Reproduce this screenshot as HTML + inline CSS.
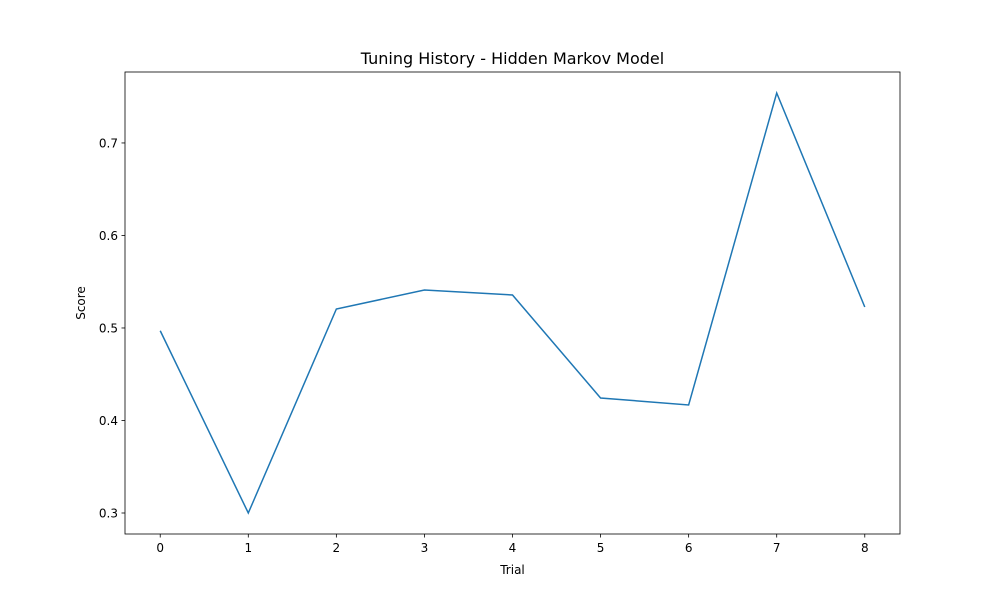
<!DOCTYPE html>
<html><head><meta charset="utf-8"><style>
body{margin:0;background:#fff;}
svg text{font-family:"DejaVu Sans","Liberation Sans",sans-serif;fill:#000;}
</style></head><body>
<svg id="chart" width="1000" height="600" viewBox="0 0 1000 600">
<rect width="1000" height="600" fill="#fff"/>
<text x="512.5" y="64" font-size="16" text-anchor="middle">Tuning History - Hidden Markov Model</text>
<g id="ticks"></g>
<path id="line" fill="none" stroke="#1f77b4" stroke-width="1.5"/>
<rect x="125" y="72" width="775" height="462" fill="none" stroke="#000" stroke-width="0.8"/>
<text x="512.5" y="574" font-size="12" text-anchor="middle">Trial</text>
<text x="0" y="0" font-size="12" text-anchor="middle" transform="translate(85,303) rotate(-90)">Score</text>
</svg>
<script>
const trials=[0,1,2,3,4,5,6,7,8];
const scores=[0.497,0.300,0.5205,0.541,0.5357,0.4243,0.4168,0.754,0.5227];
const xTicks=[0,1,2,3,4,5,6,7,8];
const yTicks=[0.3,0.4,0.5,0.6,0.7];
const L=125,R=900,T=72,B=534;
const xmin=-0.4,xmax=8.4;
const ymn=Math.min(...scores),ymx=Math.max(...scores),m=(ymx-ymn)*0.05;
const y0=ymn-m,y1=ymx+m;
const sx=v=>L+(v-xmin)/(xmax-xmin)*(R-L);
const sy=v=>B-(v-y0)/(y1-y0)*(B-T);
const NS='http://www.w3.org/2000/svg';
const g=document.getElementById('ticks');
function mk(t,a){const e=document.createElementNS(NS,t);for(const k in a)e.setAttribute(k,a[k]);g.appendChild(e);return e;}
xTicks.forEach(v=>{const x=sx(v);
const l=mk('line',{x1:x,x2:x,y1:B,y2:B+3.5,stroke:'#000','stroke-width':0.8});


const t=mk('text',{x:x,y:B+18,'font-size':12,'text-anchor':'middle'});t.textContent=v;

});
yTicks.forEach(v=>{const y=sy(v);
const l=mk('line',{x1:L-3.5,x2:L,y1:y,y2:y,stroke:'#000','stroke-width':0.8});


const t=mk('text',{x:L-7,y:y+4.5,'font-size':12,'text-anchor':'end'});t.textContent=v.toFixed(1);

});
document.getElementById('line').setAttribute('d',trials.map((t,i)=>(i?'L':'M')+sx(t)+','+sy(scores[i])).join(' '));
</script>
</body></html>
